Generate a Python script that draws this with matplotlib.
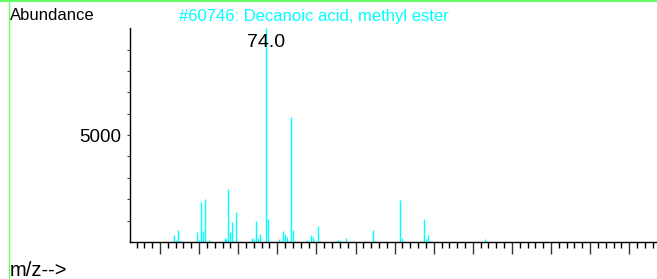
import matplotlib
matplotlib.use('Agg')
import matplotlib.pyplot as plt
from matplotlib.lines import Line2D
from matplotlib.ticker import MultipleLocator, FixedLocator, NullFormatter

plt.rcParams['font.family'] = ['Liberation Sans', 'DejaVu Sans']

# mass spectrum peaks (m/z, abundance)
mz = [15, 27, 28, 29, 30, 31, 39, 40, 41, 42, 43, 44, 45,
      53, 54, 55, 56, 57, 58, 59, 60, 67, 68, 69, 70, 71,
      74, 75, 76, 81, 82, 83, 84, 85, 86, 87, 88, 89,
      95, 96, 97, 98, 101, 102, 110, 111, 112, 115,
      125, 129, 130, 136, 143, 144, 153, 155, 156, 157, 158,
      186, 187]
abundance = [60, 330, 110, 560, 30, 40, 480, 80, 1880, 510, 2020, 60, 100,
             190, 120, 2480, 470, 930, 60, 1400, 40, 190, 140, 1000, 190, 390,
             9999, 1060, 50, 140, 60, 500, 370, 250, 40, 5840, 560, 50,
             110, 50, 330, 230, 760, 50, 50, 80, 100, 190,
             40, 560, 60, 40, 1960, 170, 40, 1060, 140, 330, 70,
             155, 30]
title = "#60746: Decanoic acid, methyl ester"
base_peak = 74.0

W, H = 657, 279
fig = plt.figure(figsize=(W / 100, H / 100), dpi=100)
ax = fig.add_axes([130 / W, 37 / H, 1 - 130 / W, 214.5 / H])

ax.vlines(mz, 0, abundance, color='#00ffff', linewidth=1.0)

ax.set_xlim(4.65, 274.2)
ax.set_ylim(0, 10030)

for s in ['top', 'right']:
    ax.spines[s].set_visible(False)
for s in ['left', 'bottom']:
    ax.spines[s].set_linewidth(1.0)
    ax.spines[s].set_color('black')

# x axis: ticks without labels
ax.xaxis.set_major_locator(MultipleLocator(20))
ax.xaxis.set_minor_locator(MultipleLocator(4))
ax.xaxis.set_major_formatter(NullFormatter())
ax.tick_params(axis='x', which='major', direction='out', length=8.5, width=1.0, color='#333333')
ax.tick_params(axis='x', which='minor', direction='out', length=4.3, width=1.0, color='black')

# y axis: only 5000 labelled
ax.yaxis.set_major_locator(FixedLocator([5000]))
ax.yaxis.set_minor_locator(FixedLocator([1000, 2000, 3000, 4000, 6000, 7000, 8000, 9000]))
ax.tick_params(axis='y', which='both', direction='out', length=2.5, width=0.8,
               color='#444444', labelsize=13.5, pad=4)

# label of the base peak
ax.text(base_peak, 0.928, f"{base_peak:.1f}", transform=ax.get_xaxis_transform(),
        ha='center', va='center', fontsize=14, color='black')

fig.text(10 / W, 1 - 16 / H, "Abundance", ha='left', va='center', fontsize=12)
fig.text(313.7 / W, 1 - 16 / H, title, ha='center', va='center', fontsize=12, color='#00ffff')
fig.text(10 / W, 1 - 271 / H, "m/z-->", ha='left', va='center', fontsize=14.5)

# green frame edges
fig.add_artist(Line2D([0, 1], [1 - 0.5 / H, 1 - 0.5 / H], transform=fig.transFigure,
                      color='#66ff66', linewidth=1.5))
fig.add_artist(Line2D([8.5 / W, 8.5 / W], [0, 1], transform=fig.transFigure,
                      color='#66ff66', linewidth=1.0))

fig.savefig('out.png', dpi=100)
